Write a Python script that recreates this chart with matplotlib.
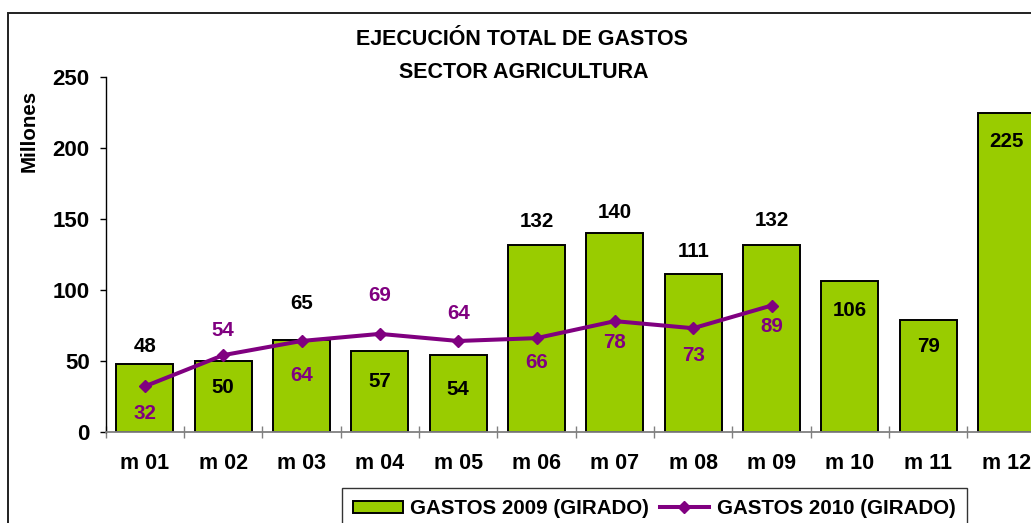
import matplotlib
matplotlib.use("Agg")
import matplotlib.pyplot as plt
from matplotlib.patches import Rectangle
import numpy as np

# ---- data ----
months = ["m 01", "m 02", "m 03", "m 04", "m 05", "m 06", "m 07", "m 08", "m 09", "m 10", "m 11", "m 12"]
gastos_2009 = [48, 50, 65, 57, 54, 132, 140, 111, 132, 106, 79, 225]
gastos_2010 = [32, 54, 64, 69, 64, 66, 78, 73, 89]
yticks = [0, 50, 100, 150, 200, 250]

title_lines = ["EJECUCIÓN TOTAL DE GASTOS", "SECTOR AGRICULTURA"]
ylabel = "Millones"
label_2009 = "GASTOS 2009 (GIRADO)"
label_2010 = "GASTOS 2010 (GIRADO)"

# label offsets (pixels, positive = up) -- layout only
bar_label_off = [17, -27, 36, -31, -34, 23, 21, 23, 24, -29, -27, -29]
line_label_off = [-27, 25, -35, 38, 27, -24, -21, -27, -21]

GREEN = "#99CC00"
PURPLE = "#800080"
FS = 14.8

plt.rcParams['font.family'] = ['Liberation Sans', 'DejaVu Sans']
plt.rcParams['font.weight'] = 'bold'

W, H = 1031, 523
fig = plt.figure(figsize=(W / 100, H / 100), dpi=100)
ax = fig.add_axes([105.7 / W, 1 - 431.7 / H, 940 / W, 354.4 / H])

x = np.arange(len(months))
bars = ax.bar(x, gastos_2009, width=0.73, color=GREEN, edgecolor="black",
              linewidth=1.4, zorder=2, label=label_2009)
x2 = np.arange(len(gastos_2010))
line, = ax.plot(x2, gastos_2010, color=PURPLE, linewidth=2.9, marker="D",
                markersize=6.6, zorder=3, label=label_2010)

for xi, v, off in zip(x, gastos_2009, bar_label_off):
    ax.annotate(str(v), (xi, v), xytext=(0, off), textcoords="offset pixels",
                ha="center", va="center", fontsize=FS, fontweight="bold",
                color="black", zorder=4, annotation_clip=False)
for xi, v, off in zip(x2, gastos_2010, line_label_off):
    ax.annotate(str(v), (xi, v), xytext=(0, off), textcoords="offset pixels",
                ha="center", va="center", fontsize=FS, fontweight="bold",
                color=PURPLE, zorder=4)

ax.set_xlim(-0.5, len(months) - 0.5)
ax.set_ylim(0, 250)
ax.set_yticks(yticks)
ax.set_yticklabels([str(t) for t in yticks], fontsize=16, fontweight="bold")
ax.tick_params(axis="y", direction="out", length=4.5, width=1, color="black", pad=7)

ax.set_xticks(x)
ax.set_xticklabels(months, fontsize=15.5, fontweight="bold")
ax.set_xticks(np.arange(len(months) + 1) - 0.5, minor=True)
ax.tick_params(axis="x", which="major", length=0, pad=15.5)
ax.tick_params(axis="x", which="minor", direction="inout", length=8, width=1, color="#808080")

for s in ["top", "right"]:
    ax.spines[s].set_visible(False)
ax.spines["left"].set_color("black")
ax.spines["left"].set_linewidth(1)
ax.spines["bottom"].set_color("#808080")
ax.spines["bottom"].set_linewidth(1.3)

# title and y label
fig.text(522 / W, 1 - 39.5 / H, title_lines[0], ha="center", va="center",
         fontsize=15.5, fontweight="bold")
fig.text(524 / W, 1 - 72 / H, title_lines[1], ha="center", va="center",
         fontsize=15.5, fontweight="bold")
fig.text(29 / W, 1 - 131 / H, ylabel, rotation=90, ha="center", va="center",
         fontsize=14.8, fontweight="bold")

# legend
leg = ax.legend(handles=[bars, line], loc="upper left",
                bbox_to_anchor=(342 / W, 1 - 488 / H), bbox_transform=fig.transFigure,
                ncol=2, frameon=True, fancybox=False,
                prop={"weight": "bold", "size": FS},
                handlelength=2.4, handleheight=0.58, handletextpad=0.38,
                columnspacing=0.5, borderpad=0.55, borderaxespad=0)
leg.get_frame().set_edgecolor("black")
leg.get_frame().set_linewidth(1.0)

# outer chart frame (extends past the image edges)
fig.patches.append(Rectangle((8 / W, -0.2), 1.5, 1 - 13 / H + 0.2,
                             transform=fig.transFigure, fill=False,
                             edgecolor="#202020", linewidth=1.4, zorder=0))

fig.savefig("out.png", dpi=100)
